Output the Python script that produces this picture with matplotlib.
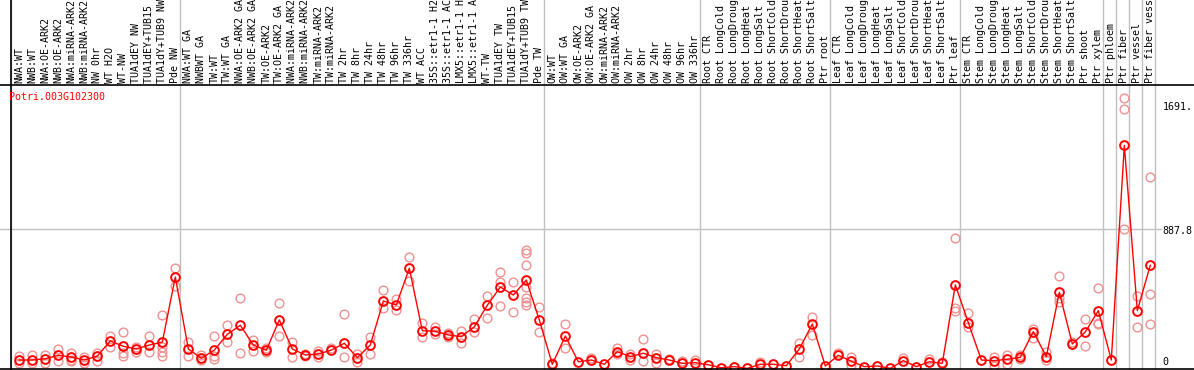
import numpy as np
import matplotlib
matplotlib.use("Agg")
import matplotlib.pyplot as plt
from matplotlib import transforms
from matplotlib.lines import Line2D

gene = "Potri.003G102300"

labels = [
    "NWA:WT", "NWB:WT", "NWA:OE-ARK2", "NWB:OE-ARK2", "NWA:miRNA-ARK2",
    "NWB:miRNA-ARK2", "NW 0hr", "WT H2O", "WT-NW", "TUA1dEY NW",
    "TUA1dEY+TUB15 NW", "TUA1dY+TUB9 NW", "Pde NW",
    "NWA:WT GA", "NWBWT GA", "TW:WT", "TW:WT GA", "NWA:OE-ARK2 GA",
    "NWB:OE-ARK2 GA", "TW:OE-ARK2", "TW:OE-ARK2 GA", "NWA:miRNA-ARK2 GA",
    "NWB:miRNA-ARK2 GA", "TW:miRNA-ARK2", "TW:miRNA-ARK2 GA", "TW 2hr",
    "TW 8hr", "TW 24hr", "TW 48hr", "TW 96hr", "TW 336hr", "WT ACC",
    "35S::etr1-1 H2O", "35S::etr1-1 ACC", "LMX5::etr1-1 H2O",
    "LMX5::etr1-1 ACC", "WT-TW", "TUA1dEY TW", "TUA1dEY+TUB15 TW",
    "TUA1dY+TUB9 TW", "Pde TW",
    "OW:WT", "OW:WT GA", "OW:OE-ARK2", "OW:OE-ARK2 GA", "OW:miRNA-ARK2",
    "OW:miRNA-ARK2 GA", "OW 2hr", "OW 8hr", "OW 24hr", "OW 48hr", "OW 96hr",
    "OW 336hr",
    "Root CTR", "Root LongCold", "Root LongDrought", "Root LongHeat",
    "Root LongSalt", "Root ShortCold", "Root ShortDrought", "Root ShortHeat",
    "Root ShortSalt", "Ptr root",
    "Leaf CTR", "Leaf LongCold", "Leaf LongDrought", "Leaf LongHeat",
    "Leaf LongSalt", "Leaf ShortCold", "Leaf ShortDrought", "Leaf ShortHeat",
    "Leaf ShortSalt", "Ptr leaf",
    "Stem CTR", "Stem LongCold", "Stem LongDrought", "Stem LongHeat",
    "Stem LongSalt", "Stem ShortCold", "Stem ShortDrought", "Stem ShortHeat",
    "Stem ShortSalt", "Ptr shoot", "Ptr xylem",
    "Ptr phloem", "Ptr fiber", "Ptr vessel", "Ptr fiber vessel",
]

# mean expression per sample
means = [
    57, 57, 65, 87, 76, 57, 82, 178, 144, 127, 152, 171, 583,
    127, 68, 120, 220, 277, 152, 119, 311, 127, 89, 95, 120, 163, 72, 152,
    431, 406, 639, 243, 239, 216, 205, 268, 404, 520, 469, 564, 311,
    30, 209, 46, 57, 30, 110, 78, 100, 72, 57, 36, 40,
    27, 8, 15, 4, 30, 30, 21, 127, 285, 19,
    87, 49, 15, 19, 4, 53, 15, 46, 36, 533,
    294, 57, 53, 62, 74, 237, 78, 486, 159, 235, 370,
    57, 1418, 370, 658,
]

# individual replicates
reps = [
    [82, 36], [87, 36], [87, 36], [127, 49], [100, 57, 49], [74, 36],
    [100, 49], [207, 138], [233, 104, 82], [142, 108], [207, 108],
    [342, 138, 108, 82], [640, 529],
    [171, 82], [91, 57], [207, 82, 65], [279, 171], [450, 99], [182, 116],
    [131, 108], [421, 207], [171, 74], [95, 82], [112, 74], [131],
    [348, 74], [95, 46], [200, 93], [503, 389], [442, 374], [709, 560],
    [292, 203], [264, 222], [228, 203], [243, 163], [317, 234], [465, 322],
    [612, 549, 400], [549, 361], [754, 735, 659, 518, 448, 427, 406],
    [392, 234],
    [40], [285, 133], [], [68], [], [131, 93], [95, 57], [188, 51],
    [93, 40], [62], [53], [57],
    [], [], [], [], [46], [], [], [163, 74], [328, 214], [],
    [100], [78, 25], [], [], [], [68], [], [63], [46], [829, 389, 370],
    [353, 264], [], [78, 21], [89, 32], [89, 62], [254, 195], [110, 57],
    [590, 448, 427], [171], [315, 146], [512, 294, 285],
    [], [1717, 1647, 886], [463, 264], [1216, 476, 283],
]

group_edges = [0, 13, 41, 53, 63, 73, 84, 85, 86, 87, 88]
scale_marks = ["1691.", "887.8", "0"]
scale_values = [1691.0, 887.8, 0.0]
y_top = 1799

W, H = 1194, 370
mono = "DejaVu Sans Mono"
fs = 7.2
grey = "#c0c0c0"

fig = plt.figure(figsize=(W / 100, H / 100), dpi=100)
ax_h = 369 - 85.3
ax = fig.add_axes([11 / W, 1 / H, 1144 / W, ax_h / H])
ax.set_xlim(0, len(labels))
ax.set_ylim(0, y_top)
ax.axis("off")

x = np.arange(len(labels)) + 0.64

# group separators run up through the label strip
for e in group_edges:
    ax.axvline(e, ymin=0, ymax=369 / ax_h, color=grey, lw=1,
               clip_on=False, zorder=1)
ax.axhline(887.8, xmin=-11 / 1144, xmax=1150 / 1144, color=grey, lw=1,
           clip_on=False, zorder=1)

for i, r in enumerate(reps):
    if r:
        ax.plot([x[i]] * len(r), r, "o", mfc="none", mec="#f09090",
                ms=6.3, mew=1.0, clip_on=False, zorder=2)

ax.plot(x, means, "-", color="red", lw=1.0, zorder=3)
ax.plot(x, means, "o", mfc="none", mec="red", ms=6.3, mew=1.4, zorder=4)

# sample names, vertical above the plot
tr = transforms.blended_transform_factory(ax.transData, ax.transAxes)
for xi, lab in zip(x, labels):
    ax.text(xi, 1 + 2.3 / ax_h, lab, transform=tr, rotation=90,
            ha="center", va="bottom", fontsize=fs, family=mono)

# scale labels on the right
offsets = [-4.4, -2, 6.7]
for txt, v, off in zip(scale_marks, scale_values, offsets):
    ax.annotate(txt, xy=(1, v), xycoords=("axes fraction", "data"),
                xytext=(7.5, off), textcoords="offset pixels",
                ha="left", va="center", fontsize=fs, family=mono)

fig.text(9 / W, 1 - 97 / H, gene, color="red", ha="left", va="center",
         fontsize=fs, family=mono)

# black frame lines
fig.add_artist(Line2D([0, 1], [1 - 85.3 / H] * 2, color="black", lw=1.2))
fig.add_artist(Line2D([0, 1], [1.2 / H] * 2, color="black", lw=1.2))
fig.add_artist(Line2D([10.5 / W] * 2, [0, 1], color="black", lw=1.2))

fig.savefig("out.png", dpi=100, facecolor="white")
